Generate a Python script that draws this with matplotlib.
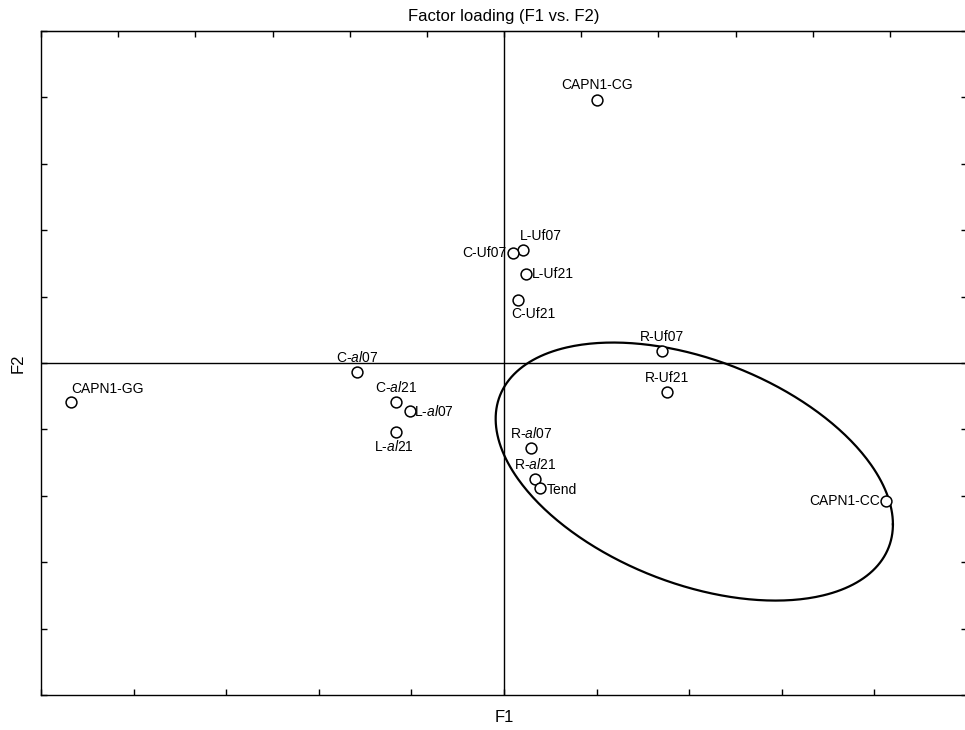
import numpy as np
import matplotlib.pyplot as plt

plt.rcParams["font.family"] = ["Liberation Sans", "DejaVu Sans"]
plt.rcParams["mathtext.fontset"] = "custom"
plt.rcParams["mathtext.it"] = "Liberation Sans:italic"
plt.rcParams["mathtext.rm"] = "Liberation Sans"

# Factor loadings
labels = ["CAPN1-CG", "L-Uf07", "C-Uf07", "L-Uf21", "C-Uf21", "R-Uf07", "R-Uf21",
          "CAPN1-GG", "C-$\\mathit{al}$07", "C-$\\mathit{al}$21", "L-$\\mathit{al}$07",
          "L-$\\mathit{al}$21", "R-$\\mathit{al}$07", "R-$\\mathit{al}$21", "Tend", "CAPN1-CC"]
f1 = [0.201, 0.041, 0.019, 0.047, 0.030, 0.341, 0.352,
      -0.936, -0.318, -0.233, -0.204, -0.233, 0.058, 0.068, 0.078, 0.825]
f2 = [0.792, 0.340, 0.330, 0.267, 0.189, 0.037, -0.087,
      -0.116, -0.026, -0.118, -0.145, -0.209, -0.256, -0.349, -0.377, -0.415]
# label placement: (dx px, dy px, ha, va)
label_pos = [(0, 8, "center", "bottom"), (-3, 7, "left", "bottom"), (-6, 0, "right", "center"),
             (6, 0, "left", "center"), (-7, -7, "left", "top"), (0, 7, "center", "bottom"),
             (0, 7, "center", "bottom"), (1, 6, "left", "bottom"), (0, 7, "center", "bottom"),
             (0, 7, "center", "bottom"), (4, 0, "left", "center"), (-2, -7, "center", "top"),
             (0, 7, "center", "bottom"), (0, 7, "center", "bottom"), (7, -2, "left", "center"),
             (-6, 0, "right", "center")]

# Ellipse: centre, spreads and correlation (data units)
ell_center = (0.411, -0.327)
ell_sx, ell_sy, ell_r = 0.429, 0.3886, -0.409

fig = plt.figure(figsize=(9.65, 7.3), dpi=100)
ax = fig.add_axes([41 / 965, 1 - 695 / 730, 926 / 965, 664 / 730])

ax.axhline(0, color="black", lw=1)
ax.axvline(0, color="black", lw=1)

t = np.linspace(0, 2 * np.pi, 400)
ex = ell_center[0] + ell_sx * np.cos(t)
ey = ell_center[1] + ell_sy * (ell_r * np.cos(t) + np.sqrt(1 - ell_r ** 2) * np.sin(t))
ax.plot(ex, ey, color="black", lw=1.6)

ax.plot(f1, f2, "o", ms=7.8, mfc="white", mec="black", mew=1.1, ls="none", zorder=3)

for x, y, lab, (dx, dy, ha, va) in zip(f1, f2, labels, label_pos):
    ax.annotate(lab, (x, y), xytext=(dx * 0.72, dy * 0.72), textcoords="offset points",
                ha=ha, va=va, fontsize=10)

ax.set_xlim(-1, 1)
ax.set_ylim(-1, 1)
ax.set_xticks(np.linspace(-1, 1, 11))
ax.set_yticks(np.linspace(-1, 1, 11))
ax.tick_params(direction="in", length=4, width=1, labelbottom=False, labelleft=False,
               right=True, labelright=False)
top = ax.secondary_xaxis("top")
top.set_xticks(np.linspace(-1, 1, 13))
top.tick_params(direction="in", length=4, width=1, labeltop=False)
for sp in ax.spines.values():
    sp.set_linewidth(1)

ax.set_title("Factor loading (F1 vs. F2)", fontsize=12, pad=7)
ax.set_xlabel("F1", fontsize=12, labelpad=11)
ax.set_ylabel("F2", fontsize=12, labelpad=11)

fig.savefig("out.png", dpi=100)
